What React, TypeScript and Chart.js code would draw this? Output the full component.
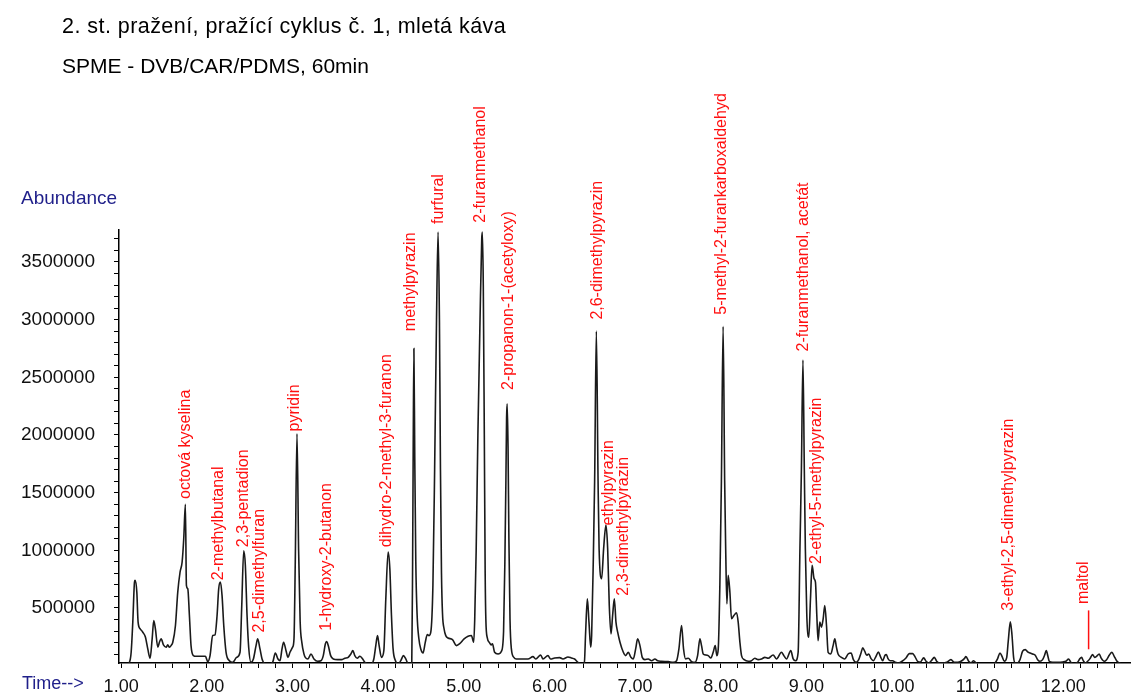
import React, { useEffect, useRef } from 'react';
import { Chart, registerables } from 'chart.js';

Chart.register(...registerables);

const titleLines = ['2. st. pražení, pražící cyklus č. 1, mletá káva', 'SPME - DVB/CAR/PDMS, 60min'];
const yAxisTitle = 'Abundance';
const xAxisTitle = 'Time-->';

// retention time (min)
const retentionTimes = [
  1.000, 1.058, 1.097, 1.117, 1.136, 1.156, 1.163, 1.183, 1.198, 1.222, 1.253, 1.284, 1.311, 1.338, 1.362, 1.381,
  1.400, 1.428, 1.447, 1.467, 1.494, 1.525, 1.544, 1.564, 1.583, 1.603, 1.634, 1.661, 1.688, 1.712, 1.731, 1.750,
  1.762, 1.778, 1.797, 1.816, 1.844, 1.875, 1.933, 1.984, 2.011, 2.038, 2.069, 2.096, 2.120, 2.139, 2.159, 2.178,
  2.198, 2.225, 2.264, 2.302, 2.349, 2.388, 2.407, 2.431, 2.450, 2.470, 2.489, 2.516, 2.544, 2.575, 2.594, 2.621,
  2.645, 2.684, 2.730, 2.769, 2.800, 2.831, 2.855, 2.878, 2.897, 2.925, 2.948, 2.971, 3.002, 3.018, 3.033, 3.053,
  3.072, 3.090, 3.110, 3.135, 3.150, 3.181, 3.216, 3.251, 3.294, 3.333, 3.360, 3.384, 3.399, 3.418, 3.446, 3.477,
  3.527, 3.573, 3.612, 3.651, 3.682, 3.705, 3.728, 3.756, 3.787, 3.814, 3.845, 3.884, 3.923, 3.950, 3.973, 3.993,
  4.012, 4.039, 4.067, 4.090, 4.117, 4.137, 4.156, 4.175, 4.203, 4.234, 4.265, 4.296, 4.323, 4.350, 4.378, 4.393,
  4.403, 4.410, 4.418, 4.428, 4.440, 4.455, 4.475, 4.500, 4.525, 4.550, 4.575, 4.595, 4.615, 4.640, 4.660, 4.682,
  4.700, 4.716, 4.728, 4.740, 4.752, 4.770, 4.790, 4.817, 4.868, 4.914, 4.953, 5.004, 5.050, 5.089, 5.116, 5.128,
  5.145, 5.165, 5.190, 5.210, 5.217, 5.228, 5.240, 5.250, 5.258, 5.275, 5.300, 5.320, 5.335, 5.360, 5.400, 5.440,
  5.465, 5.480, 5.492, 5.500, 5.507, 5.517, 5.527, 5.540, 5.556, 5.585, 5.614, 5.692, 5.750, 5.808, 5.840, 5.898,
  5.925, 5.983, 6.014, 6.061, 6.119, 6.158, 6.217, 6.256, 6.294, 6.333, 6.372, 6.408, 6.423, 6.443, 6.462, 6.482,
  6.493, 6.512, 6.528, 6.548, 6.568, 6.580, 6.610, 6.633, 6.660, 6.680, 6.699, 6.719, 6.738, 6.758, 6.777, 6.797,
  6.824, 6.863, 6.890, 6.921, 6.952, 6.979, 7.007, 7.030, 7.057, 7.084, 7.115, 7.154, 7.193, 7.232, 7.263, 7.310,
  7.388, 7.446, 7.485, 7.512, 7.543, 7.566, 7.590, 7.621, 7.660, 7.699, 7.730, 7.757, 7.776, 7.796, 7.823, 7.854,
  7.885, 7.912, 7.936, 7.955, 7.971, 7.990, 8.008, 8.028, 8.046, 8.058, 8.072, 8.087, 8.107, 8.126, 8.154, 8.185,
  8.204, 8.224, 8.243, 8.274, 8.321, 8.360, 8.398, 8.437, 8.476, 8.515, 8.554, 8.612, 8.651, 8.709, 8.737, 8.768,
  8.818, 8.846, 8.873, 8.904, 8.925, 8.942, 8.960, 8.976, 8.988, 9.005, 9.028, 9.048, 9.067, 9.090, 9.106, 9.122,
  9.137, 9.157, 9.176, 9.196, 9.215, 9.235, 9.254, 9.285, 9.312, 9.332, 9.351, 9.370, 9.409, 9.448, 9.487, 9.522,
  9.549, 9.580, 9.611, 9.638, 9.658, 9.681, 9.704, 9.728, 9.755, 9.782, 9.813, 9.841, 9.864, 9.891, 9.918, 9.934,
  9.953, 9.977, 10.008, 10.039, 10.078, 10.117, 10.163, 10.202, 10.241, 10.272, 10.299, 10.331, 10.370, 10.397, 10.428, 10.459,
  10.494, 10.521, 10.552, 10.591, 10.638, 10.688, 10.727, 10.766, 10.805, 10.844, 10.863, 10.895, 10.922, 10.953, 10.980, 11.019,
  11.058, 11.116, 11.155, 11.194, 11.233, 11.260, 11.284, 11.311, 11.338, 11.357, 11.381, 11.400, 11.420, 11.439, 11.466, 11.494,
  11.525, 11.556, 11.583, 11.614, 11.641, 11.672, 11.700, 11.727, 11.758, 11.781, 11.801, 11.820, 11.836, 11.875, 11.933, 11.991,
  12.030, 12.061, 12.088, 12.128, 12.166, 12.194, 12.213, 12.233, 12.256, 12.284, 12.311, 12.341, 12.365, 12.388, 12.419, 12.440,
  12.478, 12.505, 12.536, 12.567, 12.594, 12.622, 12.653, 12.692, 12.730, 12.769, 12.810,
];

// total ion abundance at each retention time
const abundance = [
  0, 5000, 29000, 116000, 377000, 725000, 740000, 638000, 377000, 319000, 290000, 246000, 145000, 64000, 232000, 391000,
  319000, 160000, 203000, 232000, 180000, 160000, 180000, 160000, 174000, 203000, 348000, 638000, 812000, 899000, 1102000, 1398000,
  696000, 667000, 435000, 174000, 87000, 81000, 81000, 81000, 35000, 87000, 261000, 267000, 435000, 667000, 725000, 609000,
  348000, 116000, 43000, 29000, 72000, 116000, 493000, 995000, 870000, 435000, 160000, 29000, 58000, 174000, 232000, 145000,
  58000, 15000, 15000, 29000, 110000, 58000, 43000, 145000, 203000, 130000, 72000, 116000, 160000, 232000, 900000, 2010000,
  1000000, 380000, 200000, 100000, 72000, 58000, 101000, 58000, 38000, 43000, 87000, 188000, 209000, 174000, 87000, 58000,
  52000, 52000, 64000, 72000, 101000, 130000, 87000, 64000, 81000, 64000, 29000, 15000, 15000, 58000, 174000, 261000,
  174000, 72000, 130000, 580000, 985000, 841000, 435000, 145000, 43000, 15000, 43000, 87000, 58000, 15000, 6000, 20000,
  900000, 1900000, 2750000, 1800000, 900000, 450000, 240000, 140000, 110000, 200000, 270000, 260000, 290000, 700000, 1700000, 3000000,
  3760000, 3000000, 1700000, 800000, 450000, 320000, 260000, 240000, 226000, 174000, 190000, 232000, 255000, 261000, 203000, 400000,
  1000000, 2000000, 3000000, 3700000, 3760000, 3300000, 2000000, 800000, 400000, 240000, 200000, 180000, 190000, 116000, 101000, 125000,
  300000, 900000, 1600000, 2150000, 2270000, 1900000, 1100000, 400000, 145000, 72000, 58000, 58000, 58000, 78000, 58000, 93000,
  58000, 87000, 58000, 67000, 70000, 58000, 75000, 67000, 58000, 29000, 15000, 29000, 290000, 580000, 377000, 160000,
  261000, 900000, 1600000, 2900000, 1600000, 1015000, 754000, 1015000, 1218000, 1015000, 522000, 275000, 435000, 580000, 377000, 290000,
  203000, 116000, 87000, 116000, 72000, 58000, 145000, 232000, 174000, 72000, 52000, 58000, 43000, 58000, 43000, 38000,
  35000, 29000, 43000, 145000, 348000, 145000, 58000, 64000, 35000, 29000, 87000, 232000, 174000, 101000, 93000, 87000,
  67000, 116000, 174000, 87000, 145000, 700000, 1600000, 2940000, 1600000, 1015000, 536000, 783000, 638000, 406000, 435000, 458000,
  377000, 203000, 87000, 52000, 38000, 43000, 64000, 52000, 58000, 72000, 64000, 93000, 58000, 116000, 87000, 58000,
  130000, 58000, 43000, 116000, 1015000, 1700000, 2650000, 1700000, 1015000, 435000, 246000, 580000, 870000, 754000, 725000, 435000,
  217000, 377000, 333000, 406000, 522000, 348000, 116000, 101000, 174000, 232000, 160000, 101000, 72000, 58000, 101000, 110000,
  52000, 29000, 52000, 110000, 154000, 125000, 90000, 101000, 61000, 43000, 81000, 119000, 81000, 43000, 90000, 96000,
  61000, 43000, 43000, 29000, 23000, 38000, 67000, 104000, 104000, 72000, 38000, 32000, 67000, 38000, 23000, 43000,
  72000, 38000, 23000, 23000, 29000, 52000, 29000, 29000, 38000, 61000, 78000, 38000, 23000, 43000, 23000, 9000,
  3000, 3000, 3000, 15000, 61000, 110000, 81000, 38000, 67000, 212000, 380000, 270000, 67000, 23000, 23000, 52000,
  125000, 139000, 119000, 110000, 101000, 90000, 52000, 38000, 52000, 90000, 130000, 81000, 38000, 29000, 29000, 32000,
  38000, 58000, 29000, 17000, 29000, 61000, 72000, 43000, 23000, 38000, 61000, 96000, 72000, 81000, 101000, 67000,
  38000, 52000, 90000, 116000, 81000, 43000, 23000, 9000, 3000, 3000, 3000,
];

// peak annotations: name, retention time of label, abundance where the label starts
const peakNames = [
  'octová kyselina', '2-methylbutanal', '2,3-pentadion', '2,5-dimethylfuran', 'pyridin', '1-hydroxy-2-butanon',
  'dihydro-2-methyl-3-furanon', 'methylpyrazin', 'furfural', '2-furanmethanol', '2-propanon-1-(acetyloxy)',
  '2,6-dimethylpyrazin', 'ethylpyrazin', '2,3-dimethylpyrazin', '5-methyl-2-furankarboxaldehyd',
  '2-furanmethanol, acetát', '2-ethyl-5-methylpyrazin', '3-ethyl-2,5-dimethylpyrazin', 'maltol',
];
const peakLabelTimes = [
  1.750, 2.135, 2.425, 2.618, 3.020, 3.398, 4.100, 4.382, 4.711, 5.197, 5.527,
  6.565, 6.692, 6.866, 8.012, 8.962, 9.118, 11.360, 12.233,
];
const peakLabelLevels = [
  1445000, 740000, 1027000, 287000, 2030000, 302000, 1027000, 2900000, 3830000, 3840000, 2390000,
  3000000, 1216000, 607000, 3043000, 2724000, 882000, 476000, 534000,
];
// leader line for maltol
const maltolLineTime = 12.295;
const maltolLineFrom = 479000;
const maltolLineTo = 142000;

const xMajorValues = [1, 2, 3, 4, 5, 6, 7, 8, 9, 10, 11, 12];
const xTickLabels = ['1.00', '2.00', '3.00', '4.00', '5.00', '6.00', '7.00', '8.00', '9.00', '10.00', '11.00', '12.00'];
const yMajorValues = [500000, 1000000, 1500000, 2000000, 2500000, 3000000, 3500000];
const yTickLabels = ['500000', '1000000', '1500000', '2000000', '2500000', '3000000', '3500000'];
const xMinorStep = 0.2;
const yMinorStep = 100000;

const FONT = '"Liberation Sans", Arial, Helvetica, sans-serif';

export default function App() {
  const canvasRef = useRef<HTMLCanvasElement | null>(null);

  useEffect(() => {
    const canvas = canvasRef.current;
    if (!canvas) return;

    const xTicks: number[] = [];
    for (let i = 0; i <= 58; i++) xTicks.push(Math.round((1 + i * xMinorStep) * 1000) / 1000);
    const yTicks: number[] = [];
    for (let i = 1; i <= 37; i++) yTicks.push(i * yMinorStep);

    const textPlugin = {
      id: 'chromText',
      afterDraw(chart: any) {
        const ctx = chart.ctx as any;
        const xs = chart.scales.x;
        const ys = chart.scales.y;
        ctx.save();
        ctx.textAlign = 'left';
        ctx.textBaseline = 'middle';
        ctx.fillStyle = '#000000';
        ctx.font = `21.5px ${FONT}`;
        ctx.letterSpacing = '0.45px';
        ctx.fillText(titleLines[0], 62, 27);
        ctx.font = `21px ${FONT}`;
        ctx.letterSpacing = '0px';
        ctx.fillText(titleLines[1], 62, 67);
        ctx.fillStyle = '#1f1f8a';
        ctx.font = `19px ${FONT}`;
        ctx.fillText(yAxisTitle, 21, 199);
        ctx.font = `18px ${FONT}`;
        ctx.fillText(xAxisTitle, 22, 684);

        ctx.fillStyle = '#ff1010';
        ctx.font = `16px ${FONT}`;
        peakNames.forEach((name, i) => {
          const px = xs.getPixelForValue(peakLabelTimes[i]);
          const py = ys.getPixelForValue(peakLabelLevels[i]);
          ctx.save();
          ctx.translate(px, py);
          ctx.rotate(-Math.PI / 2);
          ctx.textAlign = 'left';
          ctx.textBaseline = 'middle';
          ctx.fillText(name, 0, 0);
          ctx.restore();
        });
        const lx = xs.getPixelForValue(maltolLineTime);
        ctx.strokeStyle = '#ff1010';
        ctx.lineWidth = 1.5;
        ctx.beginPath();
        ctx.moveTo(lx, ys.getPixelForValue(maltolLineFrom));
        ctx.lineTo(lx, ys.getPixelForValue(maltolLineTo));
        ctx.stroke();
        ctx.restore();
      },
    };

    const chart = new Chart(canvas, {
      type: 'line',
      data: {
        datasets: [
          {
            data: retentionTimes.map((t, i) => ({ x: t, y: abundance[i] })),
            borderColor: '#1a1a1a',
            borderWidth: 1.6,
            pointRadius: 0,
            fill: false,
            cubicInterpolationMode: 'monotone',
          },
        ],
      },
      options: {
        animation: false,
        responsive: false,
        layout: { padding: { top: 230, left: 0, right: 0, bottom: 0 } },
        plugins: {
          legend: { display: false },
          tooltip: { enabled: false },
          title: { display: false },
        },
        scales: {
          x: {
            type: 'linear',
            min: 0.975,
            max: 12.79,
            afterBuildTicks: (scale: any) => {
              scale.ticks = xTicks.map((v) => ({ value: v }));
            },
            afterFit: (scale: any) => {
              scale.height = 34;
            },
            ticks: {
              autoSkip: false,
              maxRotation: 0,
              minRotation: 0,
              padding: 8,
              color: '#111111',
              font: { family: FONT, size: 18 },
              callback: (v: any) => {
                const i = xMajorValues.findIndex((m) => Math.abs(m - Number(v)) < 1e-6);
                return i >= 0 ? xTickLabels[i] : '';
              },
            },
            grid: { drawOnChartArea: false, drawTicks: true, tickLength: 5, color: '#000000', lineWidth: 1 },
            border: { display: true, color: '#000000', width: 1.5 },
          },
          y: {
            type: 'linear',
            min: 23000,
            max: 3777000,
            afterBuildTicks: (scale: any) => {
              scale.ticks = yTicks.map((v) => ({ value: v }));
            },
            afterFit: (scale: any) => {
              scale.width = 119;
            },
            ticks: {
              autoSkip: false,
              padding: 19,
              color: '#111111',
              font: { family: FONT, size: 19 },
              callback: (v: any) => {
                const i = yMajorValues.findIndex((m) => Math.abs(m - Number(v)) < 1);
                return i >= 0 ? yTickLabels[i] : '';
              },
            },
            grid: { drawOnChartArea: false, drawTicks: true, tickLength: 5, color: '#000000', lineWidth: 1 },
            border: { display: true, color: '#000000', width: 1.5 },
          },
        },
      },
      plugins: [textPlugin],
    } as any);

    return () => {
      chart.destroy();
    };
  }, []);

  return (
    <div style={{ position: 'absolute', left: 0, top: 0, width: 1131, height: 697, background: '#ffffff' }}>
      <canvas ref={canvasRef} width={1131} height={697} style={{ display: 'block' }} />
    </div>
  );
}
